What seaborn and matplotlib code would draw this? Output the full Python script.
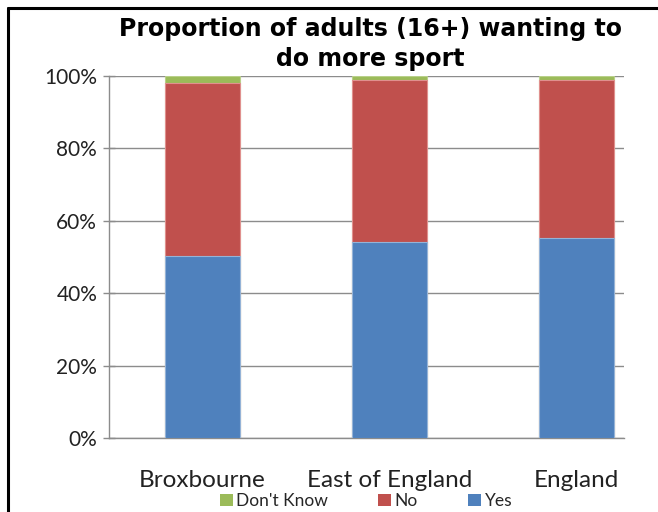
import matplotlib
matplotlib.use("Agg")
import matplotlib.pyplot as plt
from matplotlib.lines import Line2D
from matplotlib.patches import Patch
import numpy as np
import pandas as pd
import seaborn as sns

# data (percent of adults)
areas = ["Broxbourne", "East of England", "England"]
yes = [50.4, 54.2, 55.3]
no = [47.8, 44.7, 43.6]
dont_know = [1.8, 1.1, 1.1]
y_ticks = [0, 20, 40, 60, 80, 100]
y_labels = ["0%", "20%", "40%", "60%", "80%", "100%"]

c_yes = "#4F81BD"
c_no = "#C0504D"
c_dk = "#9BBB59"
grid_col = "#8C8C8C"

sns.set_style("white")
plt.rcParams["font.family"] = ["Lato", "DejaVu Sans"]

df = pd.DataFrame({"area": areas, "yes": yes, "no": no, "dk": dont_know})
df["cum_no"] = df["yes"] + df["no"]
df["cum_dk"] = df["cum_no"] + df["dk"]

fig = plt.figure(figsize=(6.58, 5.12), dpi=100)
ax = fig.add_axes([109 / 658, 1 - 438 / 512, (624 - 109) / 658, (438 - 76) / 512])

# stacked bars drawn as overlapping cumulative bars, tallest first
sns.barplot(data=df, x="area", y="cum_dk", color=c_dk, width=0.4, saturation=1,
            edgecolor="#B9D08A", linewidth=0.8, ax=ax, zorder=3)
sns.barplot(data=df, x="area", y="cum_no", color=c_no, width=0.4, saturation=1,
            edgecolor="#E0908E", linewidth=0.8, ax=ax, zorder=3)
sns.barplot(data=df, x="area", y="yes", color=c_yes, width=0.4, saturation=1,
            edgecolor="#95B3D7", linewidth=0.8, ax=ax, zorder=3)

ax.set_ylim(0, 100)
ax.set_xlim(-0.5, 2.254)
ax.set_yticks(y_ticks)
ax.set_yticklabels(y_labels, fontsize=15, color="#222222")
ax.yaxis.grid(True, color=grid_col, linewidth=1)
ax.set_axisbelow(True)
ax.set_xlabel("")
ax.set_ylabel("")

# x tick marks sit on category boundaries, labels at the centres
ax.set_xticks([0, 1, 2])
ax.set_xticklabels(areas, fontsize=17.5, color="#222222")
ax.tick_params(axis="x", length=0, pad=23)
ax.set_xticks([-0.5, 0.5, 1.5], minor=True)
ax.tick_params(axis="x", which="minor", length=8, color=grid_col, width=1, direction="out")
ax.tick_params(axis="y", length=9, color=grid_col, width=1, direction="inout", pad=4, left=True)

for s in ["top", "right"]:
    ax.spines[s].set_visible(False)
for s in ["left", "bottom"]:
    ax.spines[s].set_color(grid_col)
    ax.spines[s].set_linewidth(1)

fig.text(370 / 658, 1 - 44 / 512, "Proportion of adults (16+) wanting to\ndo more sport",
         ha="center", va="center", fontsize=17, fontweight="bold", color="black",
         family=["DejaVu Sans"], linespacing=1.35)

handles = [Patch(facecolor=c_dk, edgecolor="none", label="Don't Know"),
           Patch(facecolor=c_no, edgecolor="none", label="No"),
           Patch(facecolor=c_yes, edgecolor="none", label="Yes")]
fig.legend(handles=handles, loc="center", bbox_to_anchor=(366 / 658, 1 - 501 / 512),
           ncol=3, frameon=False, fontsize=12.5, handlelength=0.75, handleheight=0.75,
           handletextpad=0.2, columnspacing=2.9, borderaxespad=0, borderpad=0)

# black frame on top and left edges
fig.add_artist(Line2D([7.5 / 658, 1], [1 - 7.5 / 512, 1 - 7.5 / 512], color="black",
                      linewidth=2.2, transform=fig.transFigure))
fig.add_artist(Line2D([7.5 / 658, 7.5 / 658], [0, 1 - 7.5 / 512], color="black",
                      linewidth=2.2, transform=fig.transFigure))

fig.savefig("out.png", dpi=100)
